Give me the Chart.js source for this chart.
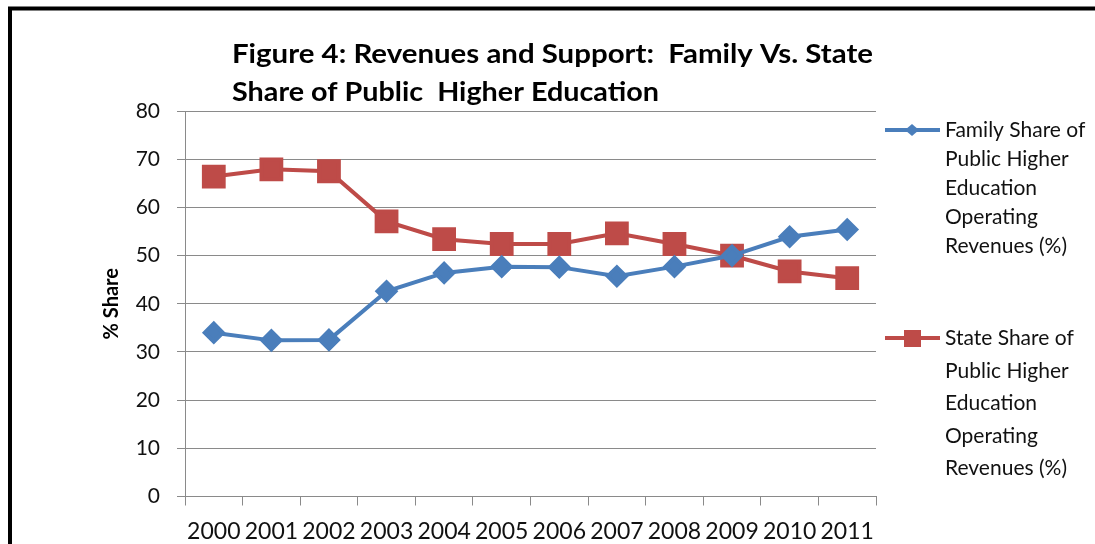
<!DOCTYPE html>
<html>
<head>
<meta charset="utf-8">
<title>Figure 4</title>
<script src="https://cdn.jsdelivr.net/npm/chart.js"></script>
<style>
  html, body { margin: 0; padding: 0; background: #fff; }
  #wrap { width: 1095px; height: 544px; }
</style>
</head>
<body>
<div id="wrap"><canvas id="shareChart" width="1095" height="544"></canvas></div>
<script>
const years = ['2000', '2001', '2002', '2003', '2004', '2005', '2006', '2007', '2008', '2009', '2010', '2011'];
const familyShare = [34.0, 32.4, 32.5, 42.6, 46.4, 47.7, 47.6, 45.7, 47.7, 50.0, 53.9, 55.4];
const stateShare = [66.4, 67.9, 67.5, 57.1, 53.4, 52.4, 52.4, 54.6, 52.4, 50.0, 46.7, 45.3];
const titleLines = ['Figure 4: Revenues and Support:  Family Vs. State', 'Share of Public  Higher Education'];
const familyLabel = ['Family Share of', 'Public Higher', 'Education', 'Operating', 'Revenues (%)'];
const stateLabel = ['State Share of', 'Public Higher', 'Education', 'Operating', 'Revenues (%)'];

const BLUE = '#4a7ebb';
const RED = '#be4b48';
const GRID = '#8a8a8a';
const FONT = 'Lato, "Open Sans", sans-serif';

// draws text squeezed/stretched to a given width (the original font is wider than Lato)
function fitText(ctx, text, x, y, width) {
  const w = ctx.measureText(text).width;
  ctx.save();
  ctx.translate(x, y);
  ctx.scale(width / w, 1);
  ctx.fillText(text, 0, 0);
  ctx.restore();
}

// frame, title and the wrapped legend are drawn by hand
const extras = {
  id: 'extras',
  afterDraw(chart) {
    const ctx = chart.ctx;
    ctx.save();

    // black frame (top + left only, the picture is cropped)
    ctx.strokeStyle = '#000';
    ctx.lineWidth = 4;
    ctx.beginPath();
    ctx.moveTo(10, 544);
    ctx.lineTo(10, 8.5);
    ctx.lineTo(1095, 8.5);
    ctx.stroke();

    // title
    ctx.fillStyle = '#000';
    ctx.font = 'bold 26px ' + FONT;
    ctx.textAlign = 'left';
    ctx.textBaseline = 'alphabetic';
    fitText(ctx, titleLines[0], 232, 63, 641);
    fitText(ctx, titleLines[1], 232, 101, 427);

    // legend
    const entries = [
      { ds: 0, lines: familyLabel, y: 130, first: 137, gap: 29 },
      { ds: 1, lines: stateLabel, y: 338, first: 345, gap: 32.5 }
    ];
    entries.forEach(e => {
      const ds = chart.data.datasets[e.ds];
      ctx.strokeStyle = ds.borderColor;
      ctx.fillStyle = ds.backgroundColor;
      ctx.lineWidth = 4;
      ctx.beginPath();
      ctx.moveTo(885, e.y);
      ctx.lineTo(940, e.y);
      ctx.stroke();
      ctx.beginPath();
      if (ds.pointStyle === 'rectRot') {
        ctx.moveTo(912, e.y - 6);
        ctx.lineTo(919, e.y);
        ctx.lineTo(912, e.y + 6);
        ctx.lineTo(905, e.y);
        ctx.closePath();
      } else {
        ctx.rect(904, e.y - 8, 17, 17);
      }
      ctx.fill();

      ctx.fillStyle = '#111';
      ctx.font = '21px ' + FONT;
      e.lines.forEach((t, i) => ctx.fillText(t, 945, e.first + i * e.gap));
    });

    ctx.restore();
  }
};

const config = {
  type: 'line',
  data: {
    labels: years,
    datasets: [
      {
        label: familyLabel.join(' '),
        data: familyShare,
        borderColor: BLUE,
        backgroundColor: BLUE,
        borderWidth: 4,
        pointStyle: 'rectRot',
        pointRadius: 9,
        pointHoverRadius: 9,
        tension: 0
      },
      {
        label: stateLabel.join(' '),
        data: stateShare,
        borderColor: RED,
        backgroundColor: RED,
        borderWidth: 4,
        pointStyle: 'rect',
        pointRadius: 14,
        pointHoverRadius: 14,
        tension: 0
      }
    ]
  },
  options: {
    responsive: false,
    animation: false,
    devicePixelRatio: 1,
    layout: { padding: { top: 111, right: 219, left: 0, bottom: 0 } },
    plugins: {
      legend: { display: false },
      title: { display: false },
      tooltip: { enabled: false }
    },
    scales: {
      x: {
        offset: true,
        afterFit: (scale) => { scale.height = 47.5; },
        grid: { offset: true, drawOnChartArea: false, color: GRID, tickLength: 9 },
        border: { color: GRID },
        ticks: {
          autoSkip: false,
          maxRotation: 0,
          padding: 12,
          color: '#111',
          font: { family: FONT, size: 23 }
        }
      },
      y: {
        min: 0,
        max: 80,
        afterFit: (scale) => { scale.width = 185; },
        grid: { color: GRID, tickLength: 8 },
        border: { color: GRID },
        ticks: {
          stepSize: 10,
          padding: 17,
          color: '#111',
          font: { family: FONT, size: 21 }
        },
        title: {
          display: true,
          text: '% Share',
          color: '#000',
          padding: { top: 100, bottom: 0 },
          font: { family: FONT, size: 20, weight: 'bold' }
        }
      }
    }
  },
  plugins: [extras]
};

const shareChart = new Chart(document.getElementById('shareChart'), config);
</script>
</body>
</html>
